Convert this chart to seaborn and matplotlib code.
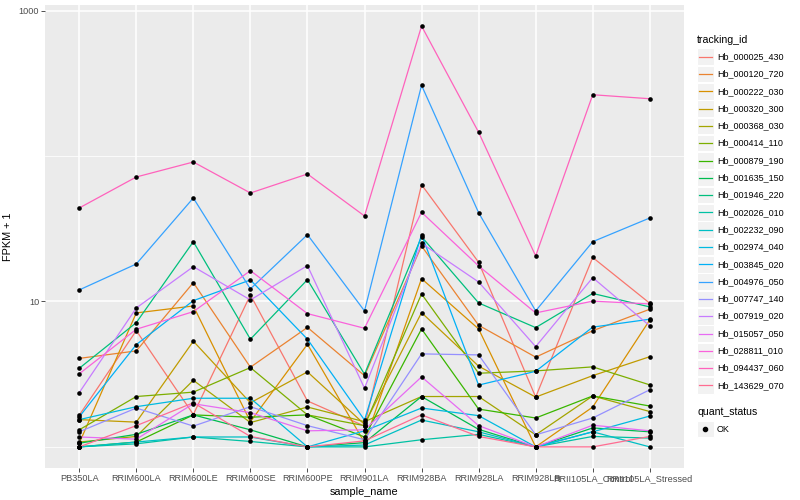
import matplotlib
matplotlib.use('Agg')
import matplotlib.pyplot as plt
import seaborn as sns
import pandas as pd
from matplotlib.patches import Rectangle
from matplotlib.lines import Line2D
from matplotlib.ticker import NullFormatter

# samples on the x axis
samples = ['PB350LA', 'RRIM600LA', 'RRIM600LE', 'RRIM600SE', 'RRIM600PE', 'RRIM901LA',
           'RRIM928BA', 'RRIM928LA', 'RRIM928LB', 'RRII105LA_Control', 'RRII105LA_Stressed']

tracking_ids = ['Hb_000025_430', 'Hb_000120_720', 'Hb_000222_030', 'Hb_000320_300',
                'Hb_000368_030', 'Hb_000414_110', 'Hb_000879_190', 'Hb_001635_150',
                'Hb_001946_220', 'Hb_002026_010', 'Hb_002232_090', 'Hb_002974_040',
                'Hb_003845_020', 'Hb_004976_050', 'Hb_007747_140', 'Hb_007919_020',
                'Hb_015057_050', 'Hb_028811_010', 'Hb_094437_060', 'Hb_143629_070']

# FPKM values (one list per gene, in sample order)
hb_000025_430 = [0.65, 5.30, 0.67, 10.08, 1.07, 0.39, 62.48, 17.60, 1.20, 19.06, 8.72]
hb_000120_720 = [3.06, 3.57, 12.47, 2.53, 5.63, 2.09, 23.07, 5.86, 3.14, 5.29, 7.84]
hb_000222_030 = [0.06, 7.34, 8.31, 0.49, 4.08, 0.07, 13.35, 5.47, 0.00, 0.88, 6.46]
hb_000320_300 = [0.54, 0.48, 4.33, 1.01, 2.28, 0.43, 7.38, 2.59, 1.20, 2.09, 3.17]
hb_000368_030 = [0.08, 0.18, 1.87, 0.47, 0.88, 0.49, 1.22, 1.22, 0.21, 1.24, 0.75]
hb_000414_110 = [0.31, 1.22, 1.38, 2.51, 0.66, 0.40, 10.26, 2.21, 2.33, 2.55, 1.67]
hb_000879_190 = [0.00, 0.08, 0.66, 0.60, 0.66, 0.17, 5.47, 0.82, 0.58, 1.24, 0.91]
hb_001635_150 = [0.06, 0.22, 0.66, 0.31, 0.00, 0.07, 1.22, 0.32, 0.00, 0.35, 0.27]
hb_001946_220 = [2.47, 6.15, 24.76, 4.50, 13.12, 2.16, 26.88, 8.77, 5.61, 10.35, 8.17]
hb_002026_010 = [0.00, 0.05, 0.17, 0.09, 0.00, 0.00, 0.12, 0.22, 0.00, 0.18, 0.15]
hb_002232_090 = [0.00, 0.08, 0.17, 0.17, 0.00, 0.03, 0.53, 0.27, 0.00, 0.27, 0.00]
hb_002974_040 = [0.54, 0.89, 1.16, 1.16, 0.00, 0.29, 0.85, 0.64, 0.00, 0.27, 0.63]
hb_003845_020 = [0.61, 4.05, 9.13, 13.05, 4.50, 0.53, 27.78, 1.66, 2.31, 5.66, 6.55]
hb_004976_050 = [11.00, 17.10, 50.44, 11.19, 27.78, 7.61, 305.2, 39.76, 7.61, 24.76, 36.49]
hb_007747_140 = [0.27, 0.85, 0.39, 0.89, 0.40, 0.12, 3.36, 3.29, 0.21, 0.58, 1.47]
hb_007919_020 = [1.36, 8.02, 16.35, 9.24, 16.63, 1.53, 24.12, 12.61, 3.89, 13.58, 5.79]
hb_015057_050 = [0.17, 0.13, 0.98, 0.72, 0.29, 0.31, 2.03, 0.40, 0.00, 0.41, 0.29]
hb_028811_010 = [2.18, 5.44, 7.51, 15.28, 7.25, 5.54, 40.03, 16.54, 7.34, 9.05, 8.61]
hb_094437_060 = [42.92, 70.74, 89.94, 54.69, 74.22, 37.70, 781.5, 144.6, 19.55, 262.8, 246.6]
hb_143629_070 = [0.00, 0.40, 1.01, 0.18, 0.00, 0.10, 0.66, 0.18, 0.00, 0.00, 0.18]

series = [hb_000025_430, hb_000120_720, hb_000222_030, hb_000320_300, hb_000368_030,
          hb_000414_110, hb_000879_190, hb_001635_150, hb_001946_220, hb_002026_010,
          hb_002232_090, hb_002974_040, hb_003845_020, hb_004976_050, hb_007747_140,
          hb_007919_020, hb_015057_050, hb_028811_010, hb_094437_060, hb_143629_070]

# ggplot2 default hue palette for 20 levels
colors = ['#F8766D', '#EA8331', '#D89000', '#C09B00', '#A3A500', '#7CAE00', '#39B600',
          '#00BB4E', '#00BF7D', '#00C1A3', '#00BFC4', '#00BAE0', '#00B0F6', '#35A2FF',
          '#9590FF', '#C77CFF', '#E76BF3', '#FA62DB', '#FF62BC', '#FF6C91']

rows = []
for tid, vals in zip(tracking_ids, series):
    for s, v in zip(samples, vals):
        rows.append({'tracking_id': tid, 'sample_name': s, 'fpkm1': v + 1})
df = pd.DataFrame(rows)

plt.rcParams['font.family'] = ['Liberation Sans', 'DejaVu Sans']
W, H = 800, 500
fig = plt.figure(figsize=(8, 5), dpi=100)
ax = fig.add_axes([45 / W, 32 / H, (684 - 45) / W, (468 - 5) / H])
ax.set_facecolor('#EBEBEB')

sns.lineplot(data=df, x='sample_name', y='fpkm1', hue='tracking_id', palette=colors,
             estimator=None, sort=False, lw=0.9, legend=False, ax=ax)
sns.scatterplot(data=df, x='sample_name', y='fpkm1', color='black', s=11,
                linewidth=0, ax=ax, zorder=3)

ax.set_yscale('log')
ax.set_ylim(0.716, 1092)
ax.set_xlim(-0.6, 10.6)
ax.set_yticks([10, 1000])
ax.set_yticklabels(['10', '1000'])
ax.set_yticks([1, 100], minor=True)
ax.yaxis.set_minor_formatter(NullFormatter())
ax.tick_params(which='minor', length=0)
ax.tick_params(which='major', length=2.7, width=0.6, color='#333333',
               labelsize=6.6, labelcolor='#4D4D4D', pad=1.5)
ax.set_axisbelow(True)
ax.grid(which='major', color='white', lw=1.1)
ax.grid(which='minor', axis='y', color='white', lw=0.55)
for sp in ax.spines.values():
    sp.set_visible(False)
ax.set_xlabel('sample_name', fontsize=7.8, labelpad=3)
ax.set_ylabel('FPKM + 1', fontsize=7.8, labelpad=4)

# legend, drawn like ggplot's guide boxes
def px(x, y):
    return x / W, 1 - y / H

fig.text(*px(697, 40), 'tracking_id', fontsize=7.6, va='center', ha='left')
for i, (tid, c) in enumerate(zip(tracking_ids, colors)):
    yc = 56.7 + 17.3 * i
    fig.add_artist(Rectangle(px(697, yc + 8.3), 16.5 / W, 16.6 / H, transform=fig.transFigure,
                             facecolor='#F2F2F2', edgecolor='white', lw=0.8))
    fig.add_artist(Line2D([698.5 / W, 711.5 / W], [1 - yc / H] * 2, transform=fig.transFigure,
                          color=c, lw=0.9))
    fig.text(*px(717, yc), tid, fontsize=6.5, va='center', ha='left')

fig.text(*px(697, 411.7), 'quant_status', fontsize=7.6, va='center', ha='left')
fig.add_artist(Rectangle(px(697, 429 + 8.3), 16.5 / W, 16.6 / H, transform=fig.transFigure,
                         facecolor='#F2F2F2', edgecolor='white', lw=0.8))
fig.add_artist(Line2D([705.2 / W], [1 - 429 / H], transform=fig.transFigure, marker='o',
                      markersize=3, color='black', lw=0))
fig.text(*px(717, 429), 'OK', fontsize=6.5, va='center', ha='left')

fig.savefig('out.png', dpi=100, facecolor='white')
